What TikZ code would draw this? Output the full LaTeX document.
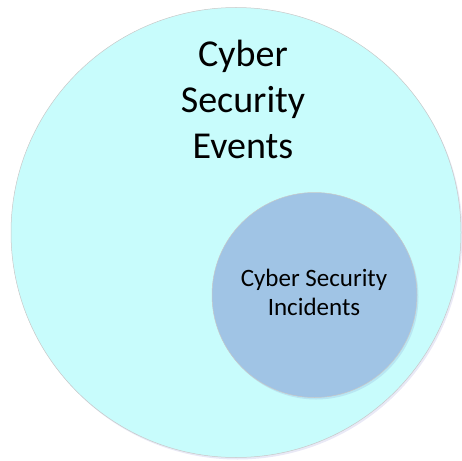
\documentclass[tikz,border=0pt]{standalone}
\usepackage{fontspec}
\setmainfont{Carlito}
\usetikzlibrary{shadows}
\definecolor{eventfill}{HTML}{C8FCFC}
\definecolor{incidentfill}{HTML}{A0C4E5}
\definecolor{rimgray}{HTML}{C8C8C8}
\begin{document}
\begin{tikzpicture}[x=1pt,y=-1pt,
  setcircle/.style={circle, draw=rimgray, line width=0.5pt,
    drop shadow={shadow xshift=1.5pt, shadow yshift=-2pt, opacity=0.12, fill=blue!40!gray}}]
  \useasboundingbox (0,0) rectangle (462,460);
  % outer set: events
  \node[setcircle, fill=eventfill, minimum size=450pt, inner sep=0pt] (events) at (236,232.5) {};
  % inner set: incidents
  \node[setcircle, fill=incidentfill, minimum size=205pt, inner sep=0pt] (incidents) at (314.5,295) {};
  \node[align=center, font=\fontsize{38}{46}\selectfont] (eventslabel) at (243,99) {Cyber\\Security\\Events};
  \node[align=center, font=\fontsize{25}{29}\selectfont] (incidentslabel) at (314,292) {Cyber Security\\Incidents};
\end{tikzpicture}
\end{document}
